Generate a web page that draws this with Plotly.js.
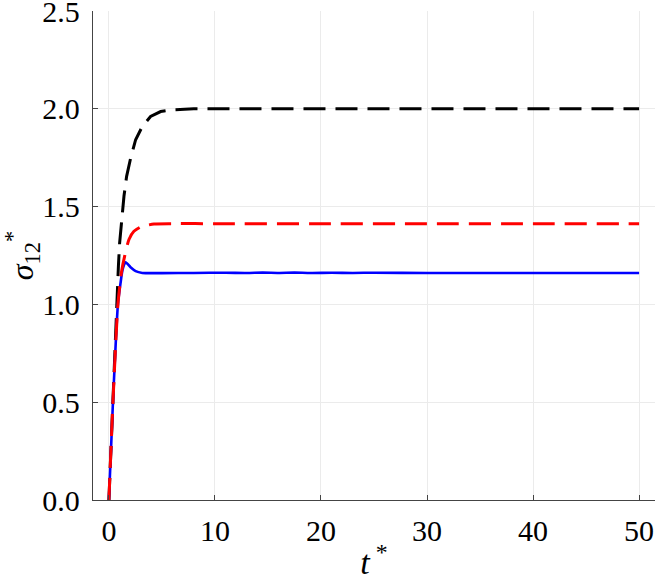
<!DOCTYPE html>
<html>
<head>
<meta charset="utf-8">
<script src="https://cdn.plot.ly/plotly-3.0.1.min.js"></script>
<style>html,body{margin:0;padding:0;background:#fff;}#chart{width:664px;height:581px;}</style>
</head>
<body>
<div id="chart"></div>
<script>
// Black dashed series
const tBlack = [0, 0.3, 0.6, 0.75, 0.9, 1.01, 1.26, 1.42, 1.67, 2.05, 2.52, 3.15, 3.93, 4.88, 5.98, 8, 10, 20, 30, 40, 50];
const sBlack = [0, 0.42, 0.82, 1.0, 1.2, 1.314, 1.467, 1.553, 1.655, 1.748, 1.842, 1.910, 1.961, 1.986, 1.995, 2.0, 2.0, 2.0, 2.0, 2.0, 2.0];
// Red dashed series
const tRed = [0, 0.38, 0.85, 1.2, 1.48, 1.89, 2.36, 3.0, 4.25, 6, 10, 20, 30, 40, 50];
const sRed = [0, 0.5, 1.0, 1.17, 1.246, 1.332, 1.374, 1.396, 1.411, 1.413, 1.413, 1.413, 1.413, 1.413, 1.413];
// Blue solid series
const tBlue = [0, 0.38, 0.85, 1.1, 1.3, 1.58, 2.04, 2.52, 3.15, 5, 8, 11, 13, 14.5, 16, 17.5, 19, 21, 23, 25, 30, 40, 50];
const sBlue = [0, 0.5, 1.0, 1.11, 1.18, 1.215, 1.19, 1.17, 1.161, 1.16, 1.161, 1.162, 1.1605, 1.1625, 1.161, 1.1625, 1.1605, 1.162, 1.161, 1.162, 1.161, 1.161, 1.161];

const xTicks = [0, 10, 20, 30, 40, 50];
const yTicks = [0, 0.5, 1.0, 1.5, 2.0, 2.5];
const yTickText = ['0.0', '0.5', '1.0', '1.5', '2.0', '2.5'];

const FONT = "'Liberation Serif', 'DejaVu Serif', serif";

const traces = [
  {x: tBlack, y: sBlack, mode: 'lines', line: {color: '#000000', width: 3, dash: '22px,10px'}, showlegend: false, hoverinfo: 'skip'},
  {x: tBlue, y: sBlue, mode: 'lines', line: {color: '#0000ff', width: 2.6, shape: 'spline', smoothing: 0.6}, showlegend: false, hoverinfo: 'skip'},
  {x: tRed, y: sRed, mode: 'lines', line: {color: '#ff0000', width: 3, dash: '22px,10px', shape: 'spline', smoothing: 0.6}, showlegend: false, hoverinfo: 'skip'}
];

const axisCommon = {
  showgrid: true, gridcolor: '#ebebeb', gridwidth: 1,
  zeroline: false, showline: true, linecolor: '#444444', linewidth: 1.2,
  ticks: 'inside', ticklen: 5, tickcolor: '#444444', tickwidth: 1,
  ticklabeloverflow: 'allow',
  tickfont: {family: FONT, size: 30, color: '#000'}
};

const layout = {
  width: 664, height: 581,
  margin: {l: 93, r: 9, t: 11, b: 81},
  paper_bgcolor: '#ffffff', plot_bgcolor: '#ffffff',
  font: {family: FONT, color: '#000'},
  xaxis: Object.assign({}, axisCommon, {
    range: [-1.5, 51.5], tickvals: xTicks, ticktext: xTicks.map(String),
    ticklabelstandoff: 4,
    title: {text: '<i>t</i><sup> *</sup>', font: {family: FONT, size: 34, color: '#000'}, standoff: 4}
  }),
  yaxis: Object.assign({}, axisCommon, {
    range: [0, 2.5002], tickvals: yTicks, ticktext: yTickText,
    ticklabelstandoff: 6,
    title: {text: '<i>σ</i><sub>12</sub><sup>*</sup>', font: {family: FONT, size: 32, color: '#000'}, standoff: 6}
  })
};

Plotly.newPlot('chart', traces, layout, {displayModeBar: false, staticPlot: true});
</script>
</body>
</html>
